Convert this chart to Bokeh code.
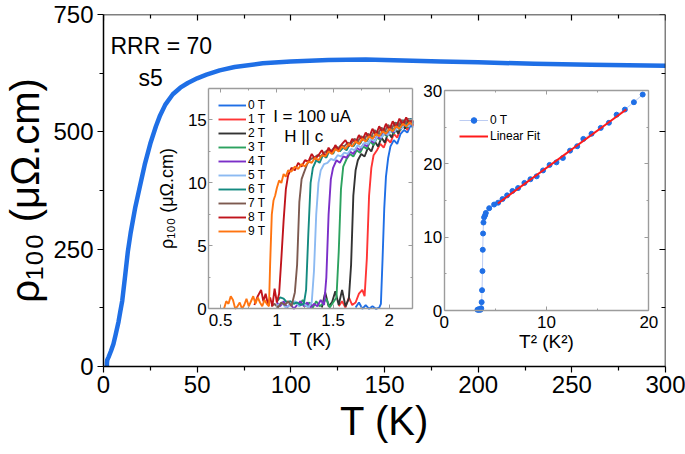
from bokeh.plotting import figure
from bokeh.models import (Range1d, LinearAxis, FixedTicker, Legend, LegendItem,
                          Label, CustomJSTickFormatter)
from bokeh.embed import file_html
from bokeh.resources import INLINE

FONT = "Liberation Sans"
BLUE = "#1f6fe6"
GRAY = "#9c9c9c"

# ---------------- main curve: rho(T) ----------------
T_main = [1.8, 1.85, 2.0, 2.7, 4, 5.3, 6.5, 8, 9, 10, 11.6, 13, 14.5, 17, 19.5, 22, 25, 28,
          30, 33, 37, 41, 45, 50, 55, 62, 70, 85, 100, 120, 140, 160, 180, 200, 230, 260, 300]
R_main = [0, 8, 14, 20, 33, 48, 68, 95, 118, 140, 195, 245, 285, 340, 385, 430, 475, 512,
          533, 558, 580, 594, 604, 614, 622, 631, 638, 646, 650, 653, 654, 652, 650, 648,
          645, 643, 641]
main_xticks = [0, 50, 100, 150, 200, 250, 300]
main_xminor = [25, 75, 125, 175, 225, 275]
main_yticks = [0, 250, 500, 750]
main_yminor = [125, 375, 625]

# ---------------- inset 1: low-T transitions in field ----------------
fields = ["0 T", "1 T", "2 T", "3 T", "4 T", "5 T", "6 T", "7 T", "8 T", "9 T"]
colors = ["#1f6fe6", "#ff3535", "#333333", "#2ca25f", "#7b2fc8",
          "#8cbaf2", "#148a80", "#7d5a50", "#c0141c", "#ff7410"]
T0 = [1.70, 1.73, 1.76, 1.79, 1.82, 1.85, 1.88, 1.91, 1.925, 1.94, 1.955, 1.97, 1.99,
      2.01, 2.04, 2.07, 2.10, 2.13, 2.16, 2.19, 2.21]
R0 = [0.1, 0.5, 0.0, 0.3, 0.0, 0.2, 0.0, 0.1, 0.4, 4.0, 8.0, 10.5, 12.0,
      12.9, 13.4, 13.1, 13.9, 14.2, 14.0, 14.6, 14.4]
T1 = [1.55, 1.58, 1.61, 1.64, 1.67, 1.70, 1.73, 1.76, 1.78, 1.80, 1.82, 1.84, 1.86, 1.89,
      1.92, 1.95, 1.98, 2.01, 2.04, 2.07, 2.10, 2.13, 2.16, 2.19, 2.21]
R1 = [0.2, 0.6, 0.1, 0.9, 0.3, 0.5, 1.2, 1.5, 1.0, 4.0, 9.0, 11.2, 12.2, 12.6,
      13.1, 12.8, 13.5, 13.2, 13.9, 13.6, 14.3, 14.9, 14.2, 15.0, 14.5]
T2 = [1.40, 1.43, 1.46, 1.49, 1.52, 1.55, 1.58, 1.61, 1.64, 1.66, 1.68, 1.70, 1.72, 1.75,
      1.78, 1.81, 1.84, 1.87, 1.90, 1.93, 1.96, 1.99, 2.02, 2.05, 2.08, 2.11, 2.14, 2.17, 2.21]
R2 = [0.1, 1.3, 0.2, 0.5, 1.4, 0.3, 1.5, 0.2, 0.8, 3.5, 9.0, 11.0, 11.8, 12.3,
      12.1, 12.8, 12.5, 13.3, 12.9, 13.6, 13.2, 14.0, 13.6, 14.4, 13.9, 14.8, 14.3, 15.0, 14.6]
T3 = [1.20, 1.23, 1.26, 1.29, 1.32, 1.35, 1.38, 1.41, 1.44, 1.47, 1.50, 1.53, 1.55, 1.57,
      1.59, 1.62, 1.65, 1.68, 1.71, 1.74, 1.77, 1.80, 1.83, 1.86, 1.89, 1.92, 1.95, 1.98,
      2.01, 2.04, 2.07, 2.10, 2.13, 2.16, 2.19, 2.21]
R3 = [0.3, 0.7, 0.2, 0.5, 0.1, 0.6, 0.2, 0.4, 0.8, 0.1, 0.5, 0.9, 4.5, 9.5,
      11.3, 11.9, 12.3, 12.1, 12.6, 12.4, 12.9, 12.7, 13.3, 13.0, 13.6, 13.4, 13.9, 13.7,
      14.2, 13.9, 14.5, 14.2, 14.8, 14.4, 15.0, 14.7]
T4 = [1.00, 1.03, 1.06, 1.09, 1.12, 1.15, 1.18, 1.21, 1.24, 1.27, 1.30, 1.33, 1.36, 1.39,
      1.42, 1.44, 1.46, 1.48, 1.50, 1.53, 1.56, 1.59, 1.62, 1.65, 1.68, 1.71, 1.74, 1.77,
      1.80, 1.83, 1.86, 1.89, 1.92, 1.95, 1.98, 2.01, 2.04, 2.07, 2.10, 2.13, 2.16, 2.19, 2.21]
R4 = [0.5, 0.2, 0.6, 0.1, 0.4, 0.0, 0.3, 0.6, 0.2, 0.5, 0.1, 0.4, 0.2, 0.7,
      0.3, 2.5, 7.5, 10.3, 11.2, 11.8, 11.6, 12.1, 12.0, 12.5, 12.3, 12.8, 12.6, 13.1,
      12.9, 13.4, 13.2, 13.7, 13.5, 14.0, 13.8, 14.3, 14.0, 14.6, 14.3, 14.9, 14.5, 15.1, 14.7]
T5 = [1.00, 1.04, 1.08, 1.12, 1.16, 1.20, 1.24, 1.28, 1.31, 1.33, 1.35, 1.37, 1.39, 1.42,
      1.45, 1.48, 1.51, 1.54, 1.57, 1.60, 1.63, 1.66, 1.69, 1.72, 1.75, 1.78, 1.81, 1.84,
      1.87, 1.90, 1.93, 1.96, 1.99, 2.02, 2.05, 2.08, 2.11, 2.14, 2.17, 2.21]
R5 = [0.2, 0.5, 0.1, 0.3, 0.6, 0.2, 0.4, 0.1, 0.5, 3.0, 7.5, 10.0, 11.0, 11.5,
      11.6, 11.9, 11.8, 12.2, 12.1, 12.4, 12.3, 12.7, 12.6, 13.0, 12.8, 13.2, 13.1, 13.5,
      13.3, 13.8, 13.6, 14.0, 13.8, 14.3, 14.1, 14.6, 14.3, 14.8, 14.5, 14.9]
T6 = [1.00, 1.03, 1.06, 1.09, 1.12, 1.15, 1.18, 1.21, 1.24, 1.26, 1.28, 1.30, 1.32, 1.35,
      1.38, 1.41, 1.44, 1.47, 1.50, 1.53, 1.56, 1.59, 1.62, 1.65, 1.68, 1.71, 1.74, 1.77,
      1.80, 1.83, 1.86, 1.89, 1.92, 1.95, 1.98, 2.01, 2.04, 2.07, 2.10, 2.13, 2.16, 2.19, 2.21]
R6 = [0.6, 0.9, 0.8, 0.5, 0.6, 0.4, 0.5, 0.3, 0.4, 1.5, 6.0, 10.0, 11.2, 11.8,
      11.6, 12.2, 12.0, 12.6, 12.3, 12.9, 12.5, 12.8, 12.6, 13.1, 12.9, 13.3, 13.1, 13.6,
      13.3, 13.8, 13.6, 14.1, 13.8, 14.3, 14.0, 14.5, 14.2, 14.8, 14.4, 15.0, 14.6, 15.1, 14.8]
T7 = [0.95, 0.98, 1.01, 1.04, 1.07, 1.10, 1.13, 1.16, 1.18, 1.20, 1.22, 1.24, 1.27, 1.30,
      1.33, 1.36, 1.39, 1.42, 1.45, 1.48, 1.51, 1.54, 1.57, 1.60, 1.63, 1.66, 1.69, 1.72,
      1.75, 1.78, 1.81, 1.84, 1.87, 1.90, 1.93, 1.96, 1.99, 2.02, 2.05, 2.08, 2.11, 2.14,
      2.17, 2.21]
R7 = [0.2, 0.4, 0.1, 0.5, 0.3, 0.6, 0.2, 1.3, 3.5, 8.5, 10.3, 10.8, 11.5, 11.9,
      12.0, 12.2, 12.1, 12.4, 12.6, 12.5, 12.8, 12.7, 13.0, 12.9, 13.2, 13.1, 13.5, 13.3,
      13.7, 13.5, 13.9, 13.7, 14.2, 13.9, 14.4, 14.1, 14.6, 14.3, 14.8, 14.5, 15.0, 14.7,
      15.1, 14.8]
T8 = [0.80, 0.83, 0.86, 0.88, 0.90, 0.92, 0.94, 0.96, 0.98, 1.00, 1.02, 1.04, 1.06, 1.08,
      1.10, 1.13, 1.16, 1.19, 1.22, 1.25, 1.28, 1.31, 1.34, 1.37, 1.40, 1.43, 1.46, 1.49,
      1.52, 1.55, 1.58, 1.61, 1.64, 1.67, 1.70, 1.73, 1.76, 1.79, 1.82, 1.85, 1.88, 1.91,
      1.94, 1.97, 2.00, 2.03, 2.06, 2.09, 2.12, 2.15, 2.18, 2.21]
R8 = [0.3, 1.0, 1.5, 0.6, 1.2, 0.4, 0.9, 0.2, 1.6, 0.5, 1.2, 4.0, 7.0, 9.5,
      10.6, 11.2, 11.0, 11.6, 11.3, 11.8, 11.7, 12.3, 11.9, 12.2, 12.6, 12.1, 12.8, 12.4,
      13.0, 12.6, 13.1, 13.4, 12.9, 13.5, 13.2, 13.8, 13.4, 14.0, 13.6, 14.3, 13.8, 14.5,
      14.0, 14.7, 14.2, 14.9, 14.4, 15.1, 14.6, 15.2, 14.7, 15.0]
T9 = [0.53, 0.55, 0.57, 0.59, 0.61, 0.63, 0.65, 0.67, 0.69, 0.71, 0.73, 0.75, 0.77, 0.79,
      0.81, 0.83, 0.85, 0.87, 0.89, 0.91, 0.93, 0.94, 0.955, 0.97, 0.985, 1.00, 1.02, 1.04,
      1.06, 1.08, 1.10, 1.13, 1.16, 1.19, 1.22, 1.25, 1.28, 1.31, 1.34, 1.37, 1.40, 1.43,
      1.46, 1.49, 1.52, 1.55, 1.58, 1.61, 1.64, 1.67, 1.70, 1.73, 1.76, 1.79, 1.82, 1.85,
      1.88, 1.91, 1.94, 1.97, 2.00, 2.03, 2.06, 2.09, 2.12, 2.15, 2.18, 2.21]
R9 = [0.0, 0.6, 0.4, 1.0, 0.7, 0.0, 0.2, 0.5, 0.0, 0.3, 0.8, 0.2, 0.6, 1.0,
      0.4, 0.9, 0.5, 0.2, 0.7, 0.4, 0.2, 3.5, 7.5, 8.6, 9.0, 9.6, 10.2, 10.0,
      10.7, 10.5, 11.0, 10.9, 11.3, 11.1, 11.5, 11.3, 11.7, 11.6, 12.0, 11.8, 12.2, 12.1,
      12.5, 12.3, 12.7, 12.5, 12.9, 12.7, 13.1, 12.9, 13.3, 13.1, 13.5, 13.3, 13.7, 13.5,
      13.9, 13.7, 14.1, 13.9, 14.3, 14.1, 14.5, 14.3, 14.7, 14.5, 14.8, 14.6]
T_sets = [T0, T1, T2, T3, T4, T5, T6, T7, T8, T9]
R_sets = [R0, R1, R2, R3, R4, R5, R6, R7, R8, R9]
in1_x = (0.395, 2.21)
in1_y = (0.0, 17.5)
in1_xticks = [0.5, 1.0, 1.5, 2.0]
in1_xminor = [0.75, 1.25, 1.75]
in1_yticks = [0, 5, 10, 15]
in1_yminor = [2.5, 7.5, 12.5]

# ---------------- inset 2: rho vs T^2 ----------------
T2_sq = [3.25, 3.32, 3.40, 3.48, 3.55, 3.62, 3.66, 3.70, 3.74, 3.77, 3.80, 3.84, 3.90,
         4.00, 4.07, 4.40, 4.88, 5.27, 5.70, 6.15, 6.67, 7.22, 7.84, 8.43, 9.04, 9.66,
         10.30, 10.97, 11.60, 12.30, 13.00, 13.60, 14.40, 15.30, 16.10, 16.85, 17.66,
         18.54, 19.40]
R_sq = [0.1, 0.15, 0.1, 0.2, 0.1, 0.3, 1.14, 2.77, 5.37, 8.28, 10.5, 12.0, 12.7,
        13.0, 13.3, 13.95, 14.45, 14.7, 15.2, 15.7, 16.3, 16.7, 17.4, 17.9, 18.3, 19.1,
        19.85, 20.2, 20.8, 21.8, 22.4, 23.4, 24.1, 24.9, 25.6, 26.7, 27.4, 28.4, 29.45]
fit_x = [5.25, 17.8]
fit_y = [14.6, 27.4]
in2_x = (0.0, 20.0)
in2_y = (0.0, 30.0)
in2_xticks = [0, 10, 20]
in2_xminor = [5, 15]
in2_yticks = [0, 10, 20, 30]
in2_yminor = [5, 15, 25]

# ---------------- layout (page pixels; the page is drawn from its top-left) ----------------
W, H = 685, 454
FL, FT, FR, FB = 102, 14, 665, 366          # main frame edges
FW, FH = FR - FL, FB - FT

p = figure(width=W, height=H, x_range=Range1d(0, 300), y_range=Range1d(0, 750),
           output_backend="svg", toolbar_location=None, x_axis_type=None, y_axis_type=None,
           min_border_left=FL, min_border_right=W - FR, min_border_top=FT,
           min_border_bottom=H - FB)
p.outline_line_color = None
p.background_fill_color = "white"


def main_xy(px, py):
    return ((px - FL) / FW * 300.0, (FB - py) / FH * 750.0)


def frame_ranges(box, xd, yd):
    # box = (left, top, right, bottom) in page pixels; map inset data range onto it
    left, top, right, bottom = box[0] - FL, box[1] - FT, box[2] - FL, box[3] - FT
    kx = (xd[1] - xd[0]) / (right - left)
    ky = (yd[1] - yd[0]) / (bottom - top)
    xr = Range1d(xd[0] - left * kx, xd[1] + (FW - right) * kx)
    yr = Range1d(yd[0] - (FH - bottom) * ky, yd[1] + top * ky)
    return xr, yr


box1 = (207.5, 88, 412, 308.3)
box2 = (443.3, 90, 648.3, 310)
p.extra_x_ranges["i1x"], p.extra_y_ranges["i1y"] = frame_ranges(box1, in1_x, in1_y)
p.extra_x_ranges["i2x"], p.extra_y_ranges["i2y"] = frame_ranges(box2, in2_x, in2_y)

EMPTY = CustomJSTickFormatter(code="return ''")

# ---- main axes ----
main_common = dict(axis_line_color="black", axis_line_width=1.5,
                   major_tick_line_color="black", minor_tick_line_color="black",
                   major_tick_line_width=1.2, minor_tick_line_width=1.2,
                   major_label_text_font=FONT, major_label_text_font_size="24px",
                   major_label_text_color="black",
                   axis_label_text_font=FONT, axis_label_text_font_style="normal",
                   axis_label_text_color="black")
xb = LinearAxis(ticker=FixedTicker(ticks=main_xticks, minor_ticks=main_xminor),
                axis_label="T (K)", axis_label_text_font_size="40px",
                major_tick_out=6, major_tick_in=0, minor_tick_out=4, minor_tick_in=0,
                major_label_standoff=3, axis_label_standoff=3, **main_common)
p.add_layout(xb, "below")
yl = LinearAxis(ticker=FixedTicker(ticks=main_yticks, minor_ticks=main_yminor),
                axis_label="ρ₁₀₀ (μΩ.cm)", axis_label_text_font_size="40px",
                major_tick_out=6, major_tick_in=0, minor_tick_out=4, minor_tick_in=0,
                major_label_standoff=4, axis_label_standoff=3, **main_common)
p.add_layout(yl, "left")
xt = LinearAxis(ticker=FixedTicker(ticks=main_xticks, minor_ticks=main_xminor),
                fixed_location=750, formatter=EMPTY,
                major_tick_out=0, major_tick_in=6, minor_tick_out=0, minor_tick_in=4,
                **main_common)
p.add_layout(xt, "above")
yr = LinearAxis(ticker=FixedTicker(ticks=main_yticks, minor_ticks=main_yminor),
                fixed_location=300, formatter=EMPTY,
                major_tick_out=0, major_tick_in=6, minor_tick_out=0, minor_tick_in=4,
                **main_common)
p.add_layout(yr, "right")

p.line(T_main, R_main, line_width=4.5, line_color=BLUE, line_join="round")

rx, ry = main_xy(109, 45)
p.add_layout(Label(x=rx, y=ry, text="RRR = 70", text_font=FONT, text_font_size="23px",
                   text_baseline="alphabetic", text_color="black"))
sx_, sy_ = main_xy(137, 77)
p.add_layout(Label(x=sx_, y=sy_, text="s5", text_font=FONT, text_font_size="23px",
                   text_baseline="alphabetic", text_color="black"))


# ---- inset axes ----
def inset_axes(xn, yn, xd, yd, xt_, xm_, yt_, ym_, xlabel, ylabel, ylab_standoff):
    c = dict(x_range_name=xn, y_range_name=yn, axis_line_color=GRAY, axis_line_width=1.4,
             major_tick_line_color=GRAY, minor_tick_line_color=GRAY,
             major_tick_in=4, major_tick_out=0, minor_tick_in=2, minor_tick_out=0,
             major_label_text_font=FONT, major_label_text_font_size="17px",
             major_label_text_color="black",
             axis_label_text_font=FONT, axis_label_text_font_style="normal",
             axis_label_text_color="black")
    xtk = dict(ticker=FixedTicker(ticks=xt_, minor_ticks=xm_), bounds=xd)
    ytk = dict(ticker=FixedTicker(ticks=yt_, minor_ticks=ym_), bounds=yd)
    p.add_layout(LinearAxis(fixed_location=yd[0], axis_label=xlabel,
                            axis_label_text_font_size="19px", major_label_standoff=5,
                            axis_label_standoff=0, **xtk, **c), "below")
    p.add_layout(LinearAxis(fixed_location=xd[0], axis_label=ylabel,
                            axis_label_text_font_size="18px", major_label_standoff=2,
                            axis_label_standoff=ylab_standoff, **ytk, **c), "left")
    p.add_layout(LinearAxis(fixed_location=yd[1], formatter=EMPTY, **xtk, **c), "above")
    p.add_layout(LinearAxis(fixed_location=xd[1], formatter=EMPTY, **ytk, **c), "right")


inset_axes("i1x", "i1y", in1_x, in1_y, in1_xticks, in1_xminor, in1_yticks, in1_yminor,
           "T (K)", "ρ₁₀₀ (μΩ.cm)", 8)
inset_axes("i2x", "i2y", in2_x, in2_y, in2_xticks, in2_xminor, in2_yticks, in2_yminor,
           "T² (K²)", None, 2)

# ---- inset 1 data ----
items1 = []
for lab, col, tx, ry_ in zip(fields, colors, T_sets, R_sets):
    r = p.line(tx, ry_, line_color=col, line_width=1.9, x_range_name="i1x", y_range_name="i1y")
    items1.append(LegendItem(label=lab, renderers=[r]))
leg1 = Legend(items=items1, location=(115, FB - 238), orientation="vertical",
              label_text_font=FONT, label_text_font_size="12px", label_text_color="black",
              glyph_width=28, glyph_height=12, label_height=12, label_standoff=2,
              spacing=0, padding=0, margin=0, background_fill_alpha=0,
              border_line_color=None)
p.add_layout(leg1, "center")

p.add_layout(Label(x=0.967, y=15.3, x_range_name="i1x", y_range_name="i1y",
                   text="I = 100 uA", text_font=FONT, text_font_size="17px",
                   text_baseline="alphabetic", text_color="black"))
p.add_layout(Label(x=1.065, y=13.7, x_range_name="i1x", y_range_name="i1y",
                   text="H || c", text_font=FONT, text_font_size="17px",
                   text_baseline="alphabetic", text_color="black"))

# ---- inset 2 data ----
rc = p.line(T2_sq, R_sq, line_color="#b4c6f0", line_width=0.9,
            x_range_name="i2x", y_range_name="i2y")
rs = p.scatter(T2_sq, R_sq, size=5, fill_color=BLUE, line_color=BLUE,
               x_range_name="i2x", y_range_name="i2y")
rf = p.line(fit_x, fit_y, line_color="#ff1a1a", line_width=2,
            x_range_name="i2x", y_range_name="i2y")
leg2 = Legend(items=[LegendItem(label="0 T", renderers=[rc, rs]),
                     LegendItem(label="Linear Fit", renderers=[rf])],
              location=(356, FB - 143), orientation="vertical",
              label_text_font=FONT, label_text_font_size="12px", label_text_color="black",
              glyph_width=29, glyph_height=14, label_height=14, label_standoff=2,
              spacing=2, padding=0, margin=0, background_fill_alpha=0,
              border_line_color=None)
p.add_layout(leg2, "center")

open("out.html", "w").write(file_html(p, INLINE))
